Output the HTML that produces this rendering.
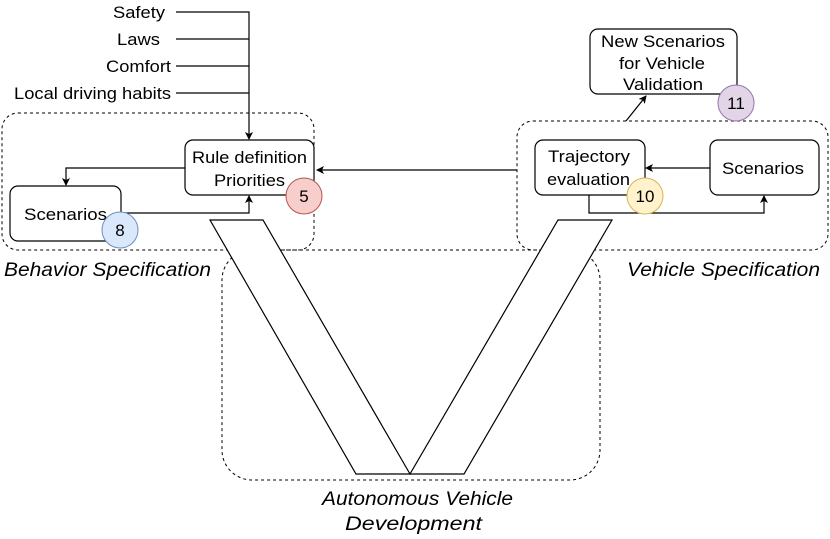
<!DOCTYPE html>
<html><head><style>body{margin:0;background:#fff}svg{display:block}text{font-family:"Liberation Sans",Helvetica,Arial,sans-serif;fill:#000}</style></head><body>
<svg width="830" height="539" viewBox="0 0 830 539" xmlns="http://www.w3.org/2000/svg">
<defs><marker id="a" markerWidth="8" markerHeight="8" refX="7" refY="4" orient="auto" markerUnits="userSpaceOnUse"><path d="M0,0 L8,4 L0,8 L2,4z" fill="#000"/></marker></defs>
<g fill="none" stroke="#000" stroke-dasharray="3,3" stroke-width="1">
<rect x="2" y="113" width="312" height="137" rx="16"/>
<rect x="517" y="121" width="311" height="129" rx="16"/>
<rect x="222" y="250" width="378" height="230" rx="30"/>
</g>
<g fill="#fff" stroke="#000" stroke-width="1.2">
<polygon points="210,220 263,220 410,474 356,474"/>
<polygon points="558,220 612,220 464,474 410,474"/>
</g>
<g font-size="17">
<text x="113" y="18" textLength="52" lengthAdjust="spacingAndGlyphs">Safety</text>
<text x="117" y="45" textLength="43" lengthAdjust="spacingAndGlyphs">Laws</text>
<text x="106" y="72" textLength="65" lengthAdjust="spacingAndGlyphs">Comfort</text>
<text x="14" y="99" textLength="157" lengthAdjust="spacingAndGlyphs">Local driving habits</text>
</g>
<g stroke="#000" fill="none" stroke-width="1.2">
<path d="M176,12H249V139" marker-end="url(#a)"/>
<path d="M176,39H249M176,66H249M176,93H249"/>
<path d="M185,168H66V185" marker-end="url(#a)"/>
<path d="M121,213H249V196" marker-end="url(#a)"/>
<path d="M517,170H317" marker-end="url(#a)"/>
<path d="M710,168H646" marker-end="url(#a)"/>
<path d="M589,195V213H764V196" marker-end="url(#a)"/>
<path d="M626,121L646,96" marker-end="url(#a)"/>
</g>
<g fill="#fff" stroke="#000" stroke-width="1.2">
<rect x="185" y="140" width="129" height="55" rx="8"/>
<rect x="10" y="186" width="111" height="55" rx="8"/>
<rect x="535" y="140" width="110" height="55" rx="8"/>
<rect x="710" y="140" width="109" height="55" rx="8"/>
<rect x="590" y="29" width="147" height="65" rx="8"/>
</g>
<g font-size="17">
<text x="192" y="163" textLength="115" lengthAdjust="spacingAndGlyphs">Rule definition</text>
<text x="214" y="186" textLength="71" lengthAdjust="spacingAndGlyphs">Priorities</text>
<text x="24" y="220" textLength="83" lengthAdjust="spacingAndGlyphs">Scenarios</text>
<text x="548" y="162" textLength="82" lengthAdjust="spacingAndGlyphs">Trajectory</text>
<text x="547" y="185" textLength="83" lengthAdjust="spacingAndGlyphs">evaluation</text>
<text x="722" y="174" textLength="82" lengthAdjust="spacingAndGlyphs">Scenarios</text>
<text x="601" y="47" textLength="124" lengthAdjust="spacingAndGlyphs">New Scenarios</text>
<text x="619" y="69" textLength="86" lengthAdjust="spacingAndGlyphs">for Vehicle</text>
<text x="623" y="90" textLength="80" lengthAdjust="spacingAndGlyphs">Validation</text>
</g>
<circle cx="304" cy="196" r="18" fill="#f8cecc" stroke="#b85450"/>
<circle cx="120" cy="230" r="18" fill="#dae8fc" stroke="#6c8ebf"/>
<circle cx="645" cy="196" r="18" fill="#fff2cc" stroke="#d6b656"/>
<circle cx="736" cy="103" r="18" fill="#e1d5e7" stroke="#9673a6"/>
<g font-size="17" text-anchor="middle">
<text x="304" y="202">5</text><text x="120" y="236">8</text><text x="645" y="202">10</text><text x="736" y="109">11</text>
</g>
<g font-size="19" font-style="italic">
<text x="4" y="276" textLength="207" lengthAdjust="spacingAndGlyphs">Behavior Specification</text>
<text x="627" y="276" textLength="193" lengthAdjust="spacingAndGlyphs">Vehicle Specification</text>
<text x="322" y="505" textLength="191" lengthAdjust="spacingAndGlyphs">Autonomous Vehicle</text>
<text x="345" y="530" textLength="137" lengthAdjust="spacingAndGlyphs">Development</text>
</g>
</svg>
</body></html>
